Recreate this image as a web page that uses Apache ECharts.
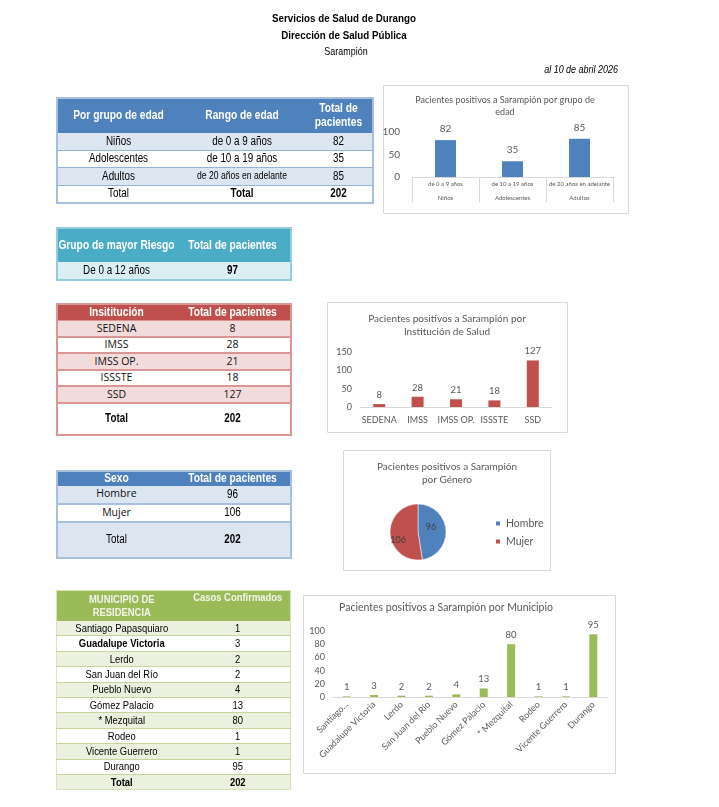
<!DOCTYPE html>
<html><head><meta charset="utf-8">
<script src="https://cdn.jsdelivr.net/npm/echarts@6/dist/echarts.min.js"></script>
<style>
html,body{margin:0;padding:0;background:#fff;}
#wrap{position:relative;width:719px;height:807px;overflow:hidden;}
#chart{position:absolute;left:0;top:0;width:719px;height:807px;}
.txt{position:absolute;font-family:"Liberation Sans Narrow","Arial Narrow","Liberation Sans",Arial,sans-serif;color:#000;white-space:nowrap;}
table.t{position:absolute;border-collapse:collapse;table-layout:fixed;font-family:"Liberation Sans","Arial",sans-serif;font-size:12px;color:#000;}
table.t td{padding:0;text-align:center;vertical-align:middle;overflow:visible;white-space:nowrap;line-height:1.1;}
.cal{font-family:"Open Sans","Noto Sans",sans-serif !important;color:#111;}
.n{display:block;width:300%;margin-left:-100%;transform:scaleX(0.82);transform-origin:50% 50%;text-align:center;}
</style></head>
<body>
<div id="wrap">
<div id="chart"></div>
<div class="txt" style="left:194px;width:300px;text-align:center;top:12px;font-size:11.5px;font-weight:bold;transform:scaleX(0.85);transform-origin:50% 50%;">Servicios de Salud de Durango</div>
<div class="txt" style="left:194px;width:300px;text-align:center;top:29px;font-size:11.5px;font-weight:bold;transform:scaleX(0.85);transform-origin:50% 50%;">Dirección de Salud Pública</div>
<div class="txt" style="left:196px;width:300px;text-align:center;top:45px;font-size:11.5px;transform:scaleX(0.78);transform-origin:50% 50%;">Sarampión</div>
<div class="txt" style="left:468px;width:150px;text-align:right;top:63px;font-size:11.5px;font-style:italic;transform:scaleX(0.78);transform-origin:100% 50%;">al 10 de abril 2026</div>
</div>
<script>
// ---- data ----
const ageGroups = ['Niños', 'Adolescentes', 'Adultos'];
const ageRanges = ['de 0 a 9 años', 'de 10 a 19 años', 'de 20 años en adelante'];
const ageCounts = [82, 35, 85];
const riskGroup = 'De 0 a 12 años';
const riskCount = 97;
const institutions = ['SEDENA', 'IMSS', 'IMSS OP.', 'ISSSTE', 'SSD'];
const instCounts = [8, 28, 21, 18, 127];
const sexes = ['Hombre', 'Mujer'];
const sexCounts = [96, 106];
const municipios = ['Santiago Papasquiaro', 'Guadalupe Victoria', 'Lerdo', 'San Juan del Río', 'Pueblo Nuevo', 'Gómez Palacio', '* Mezquital', 'Rodeo', 'Vicente Guerrero', 'Durango'];
const muniCounts = [1, 3, 2, 2, 4, 13, 80, 1, 1, 95];
const totalPacientes = 202;

// ---- tables ----
const wrap = document.getElementById('wrap');
function makeTable(o) {
  const t = document.createElement('table');
  t.className = 't';
  t.style.left = o.left + 'px'; t.style.top = o.top + 'px'; t.style.width = o.width + 'px';
  t.style.border = o.border;
  const cg = document.createElement('colgroup');
  o.cols.forEach(w => { const c = document.createElement('col'); c.style.width = w + 'px'; cg.appendChild(c); });
  t.appendChild(cg);
  o.rows.forEach((r, ri) => {
    const tr = document.createElement('tr');
    tr.style.height = r.h + 'px';
    tr.style.background = r.bg;
    r.cells.forEach(c => {
      const td = document.createElement('td');
      if (typeof c !== 'object') c = { t: c };
      const cal = c.cal || r.cal;
      td.innerHTML = cal ? c.t : '<span class="n">' + c.t + '</span>';
      td.style.height = r.h + 'px';
      if (c.b || r.b) td.style.fontWeight = 'bold';
      if (c.s || r.s) td.style.fontSize = (c.s || r.s) + 'px';
      if (cal) td.className = 'cal';
      if (r.color) td.style.color = r.color;
      if (c.va) td.style.verticalAlign = c.va;
      if (r.sep && ri < o.rows.length - 1) td.style.borderBottom = r.sep;
      tr.appendChild(td);
    });
    t.appendChild(tr);
  });
  wrap.appendChild(t);
}

// Table 1: age groups
(function () {
  const rows = [{ h: 34, bg: '#4F81BD', color: '#fff', b: true, s: 12.5, cells: ['Por grupo de edad', 'Rango de edad', 'Total de<br>pacientes'] }];
  ageGroups.forEach((g, i) => rows.push({
    h: 16.5, bg: i % 2 === 0 ? '#DCE6F1' : '#fff', sep: '1px solid #95B3D7',
    cells: [g, { t: ageRanges[i], s: ageRanges[i].length > 18 ? 10.5 : 12 }, ageCounts[i]]
  }));
  rows.push({ h: 16.5, bg: '#fff', cells: ['Total', { t: 'Total', b: true }, { t: totalPacientes, b: true }] });
  makeTable({ left: 56, top: 97, width: 316, cols: [122, 126, 68], border: '2px solid #A7BFDE', rows });
})();

// Table 2: risk group
makeTable({ left: 56, top: 227, width: 234, cols: [118, 116], border: '2px solid #92CDDC', rows: [
  { h: 33, bg: '#4BACC6', color: '#fff', b: true, s: 12.5, cells: ['Grupo de mayor Riesgo', 'Total de pacientes'] },
  { h: 17, bg: '#DAEEF3', cells: [riskGroup, { t: riskCount, b: true }] }
]});

// Table 3: institutions
(function () {
  const rows = [{ h: 15, bg: '#C0504D', color: '#fff', b: true, s: 12.5, cells: ['Insititución', 'Total de pacientes'], sep: '1px solid #D99694' }];
  institutions.forEach((n, i) => rows.push({
    h: 14.6, bg: i % 2 === 0 ? '#F2DCDB' : '#fff', sep: '2px solid #D99694', cal: true, s: 10.5,
    cells: [n, instCounts[i]]
  }));
  rows.push({ h: 30, bg: '#fff', b: true, cells: ['Total', totalPacientes] });
  makeTable({ left: 56, top: 303, width: 234, cols: [118, 116], border: '2px solid #D99694', rows });
})();

// Table 4: sex
(function () {
  const rows = [{ h: 14, bg: '#4F81BD', color: '#fff', b: true, s: 12.5, cells: ['Sexo', 'Total de pacientes'] }];
  sexes.forEach((n, i) => rows.push({
    h: 16.5, bg: i % 2 === 0 ? '#DCE6F1' : '#fff', sep: '2px solid #A7BFDE',
    cells: [{ t: n, cal: true, s: 10.5 }, sexCounts[i]]
  }));
  rows.push({ h: 34, bg: '#DCE6F1', cells: ['Total', { t: totalPacientes, b: true }] });
  makeTable({ left: 56, top: 470, width: 234, cols: [118, 116], border: '2px solid #A7BFDE', rows });
})();

// Table 5: municipios
(function () {
  const rows = [{ h: 30, bg: '#9BBB59', color: '#F2F5EA', b: true, s: 11.5,
    cells: [{ t: 'MUNICIPIO DE<br>RESIDENCIA' }, { t: 'Casos Confirmados', va: 'top' }] }];
  municipios.forEach((n, i) => rows.push({
    h: 14.4, bg: i % 2 === 0 ? '#EBF1DE' : '#fff', sep: '1.5px solid #C4D79B', s: 11.5,
    cells: [{ t: n, b: n === 'Guadalupe Victoria' }, muniCounts[i]]
  }));
  rows.push({ h: 14.4, bg: '#EBF1DE', b: true, s: 11.5, cells: ['Total', totalPacientes] });
  makeTable({ left: 56, top: 590, width: 234, cols: [129, 105], border: '1.5px solid #D7E4BC', rows });
})();

// ---- charts ----
const gray = '#595959';
const FONT = 'Lato, "Open Sans", sans-serif';
const chart = echarts.init(document.getElementById('chart'));
function box(x, y, w, h) {
  return { type: 'rect', shape: { x: x + 0.5, y: y + 0.5, width: w, height: h }, style: { fill: 'none', stroke: '#D9D9D9', lineWidth: 1 }, silent: true };
}
const titleStyle = (fs) => ({ fontSize: fs, fontWeight: 'normal', color: gray, fontFamily: FONT, lineHeight: fs + 3 });
const noSplit = { show: false };
const pieLabelOffsets = [[-4, -4], [-3, 7]];
const option = {
  animation: false,
  textStyle: { fontFamily: FONT },
  graphic: [box(383, 85, 245, 128), box(327, 302, 240, 130), box(343, 450, 207, 120), box(303, 595, 312, 178)],
  title: [
    { text: 'Pacientes positivos a Sarampión por grupo de\nedad', left: 505, top: 94, textAlign: 'center', textStyle: titleStyle(9), padding: 0 },
    { text: 'Pacientes positivos a Sarampión por\nInstitución de Salud', left: 447, top: 312, textAlign: 'center', textStyle: titleStyle(10), padding: 0 },
    { text: 'Pacientes positivos a Sarampión\npor Género', left: 447, top: 460, textAlign: 'center', textStyle: titleStyle(10), padding: 0 },
    { text: 'Pacientes positivos a Sarampión por Municipio', left: 446, top: 601, textAlign: 'center', textStyle: titleStyle(10.5), padding: 0 }
  ],
  grid: [
    { left: 412, right: 719 - 613, top: 132, bottom: 807 - 177 },
    { left: 360, right: 719 - 552, top: 352, bottom: 807 - 407 },
    { left: 333, right: 719 - 607, top: 631, bottom: 807 - 697 }
  ],
  xAxis: [
    { gridIndex: 0, type: 'category', data: ageRanges, axisLine: { lineStyle: { color: '#D9D9D9' } },
      axisTick: { show: true, length: 25, lineStyle: { color: '#D9D9D9' } },
      axisLabel: { fontSize: 6, color: gray, margin: 4, interval: 0 } },
    { gridIndex: 0, type: 'category', data: ageGroups, position: 'bottom', offset: 14,
      axisLine: { show: false }, axisTick: { show: false },
      axisLabel: { fontSize: 6, color: gray, margin: 4, interval: 0 } },
    { gridIndex: 1, type: 'category', data: institutions, axisLine: { lineStyle: { color: '#D9D9D9' } },
      axisTick: { show: false }, axisLabel: { fontSize: 9, color: gray, margin: 9, interval: 0 } },
    { gridIndex: 2, type: 'category', data: municipios, axisLine: { lineStyle: { color: '#D9D9D9' } },
      axisTick: { show: false },
      axisLabel: { fontSize: 9, color: gray, margin: 6, interval: 0, rotate: 45,
        formatter: v => v.length > 19 ? v.split(' ')[0] + '...' : v } }
  ],
  yAxis: [
    { gridIndex: 0, type: 'value', min: 0, max: 100, interval: 50, splitLine: noSplit,
      axisLine: { show: false }, axisTick: { show: false }, axisLabel: { fontSize: 10, color: gray, margin: 12 } },
    { gridIndex: 1, type: 'value', min: 0, max: 150, interval: 50, splitLine: noSplit,
      axisLine: { show: false }, axisTick: { show: false }, axisLabel: { fontSize: 9, color: gray, margin: 8 } },
    { gridIndex: 2, type: 'value', min: 0, max: 100, interval: 20, splitLine: noSplit,
      axisLine: { show: false }, axisTick: { show: false }, axisLabel: { fontSize: 9, color: gray, margin: 8 } }
  ],
  legend: {
    data: sexes, orient: 'vertical', left: 494, top: 518, itemWidth: 6, itemHeight: 6, itemGap: 7, icon: 'rect',
    textStyle: { fontSize: 10.5, color: gray, fontFamily: FONT }, padding: 0
  },
  series: [
    { type: 'bar', xAxisIndex: 0, yAxisIndex: 0, data: ageCounts, barWidth: 21, itemStyle: { color: '#4F81BD' },
      label: { show: true, position: 'top', fontSize: 10, color: gray, distance: 6 } },
    { type: 'bar', xAxisIndex: 2, yAxisIndex: 1, data: instCounts, barWidth: 12, itemStyle: { color: '#C0504D' },
      label: { show: true, position: 'top', fontSize: 9.5, color: gray, distance: 4 } },
    { type: 'bar', xAxisIndex: 3, yAxisIndex: 2, data: muniCounts, barWidth: 8, itemStyle: { color: '#9BBB59' },
      label: { show: true, position: 'top', fontSize: 9.5, color: gray, distance: 4 } },
    { type: 'pie', center: [418, 532], radius: 28, startAngle: 90, clockwise: true,
      data: sexes.map((n, i) => ({ name: n, value: sexCounts[i], label: { offset: pieLabelOffsets[i] } })),
      color: ['#4F81BD', '#C0504D'], itemStyle: { borderColor: '#fff', borderWidth: 0.5 },
      label: { show: true, position: 'inner', fontSize: 9, color: '#404040', formatter: '{c}' },
      labelLine: { show: false } }
  ]
};
chart.setOption(option);
</script>
</body></html>
